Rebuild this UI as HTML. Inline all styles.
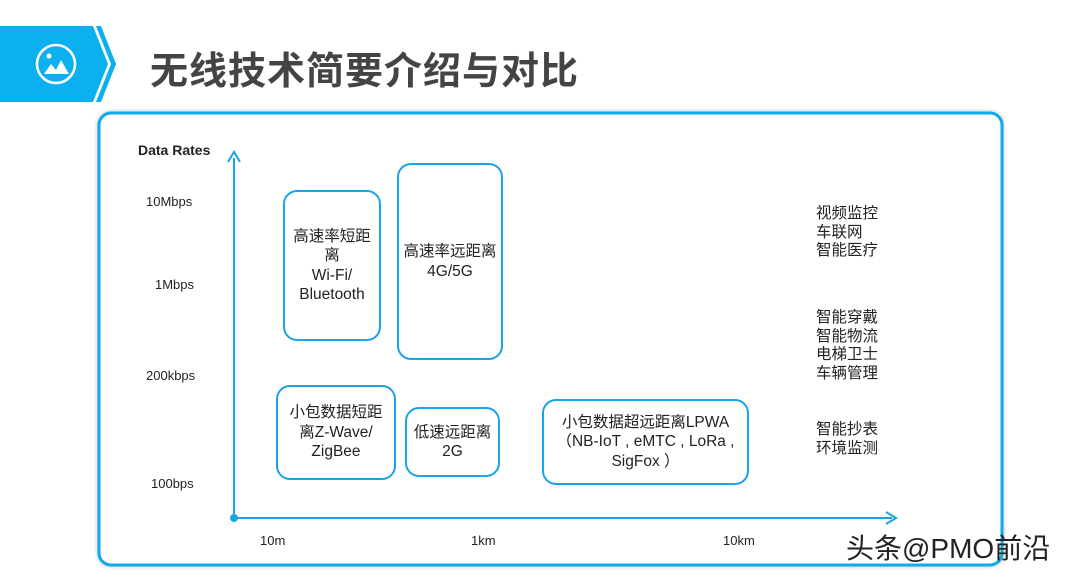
<!DOCTYPE html><html><head><meta charset="utf-8"><style>
body{margin:0;width:1080px;height:574px;background:#fff;position:relative;overflow:hidden;font-family:"Liberation Sans","Noto Sans CJK SC",sans-serif}
.a{position:absolute}
.box{position:absolute;border:2px solid #1aa3e8;border-radius:14px;display:flex;align-items:center;justify-content:center;text-align:center;font-size:15.5px;line-height:19.5px;color:#222;box-sizing:border-box}
.lab{position:absolute;font-size:13px;color:#222}
.r{position:absolute;font-size:15.5px;line-height:18.5px;color:#222}
</style></head><body>
<svg class="a" style="left:0;top:0" width="1080" height="574">
<polygon points="0,26 93,26 108,64 93,102 0,102" fill="#0db0ef"/>
<polygon points="96,26 101,26 116,64 101,102 96,102 111,64" fill="#0db0ef"/>
<circle cx="56" cy="64" r="19" fill="none" stroke="#fff" stroke-width="2.5"/>
<circle cx="49" cy="56" r="2.5" fill="#fff"/>
<polygon points="44,74 51,64 56,70 61,60 69,74" fill="#fff"/>
<rect x="99" y="113" width="903" height="452" rx="12" fill="#fff" stroke="#12a9e8" stroke-width="3" style="filter:drop-shadow(0 0 2px #bbb)"/>
<line x1="234" y1="518" x2="234" y2="158" stroke="#1aa3e8" stroke-width="2"/>
<polyline points="228,162 234,152 240,162" fill="none" stroke="#1aa3e8" stroke-width="2"/>
<line x1="232" y1="518" x2="892" y2="518" stroke="#1aa3e8" stroke-width="2"/>
<polyline points="886,512 896,518 886,524" fill="none" stroke="#1aa3e8" stroke-width="2"/>
<circle cx="234" cy="518" r="4" fill="#1aa3e8"/>
</svg>
<div class="a" style="left:150px;top:40px;font-size:38px;font-weight:bold;color:#444;letter-spacing:1px">无线技术简要介绍与对比</div>
<div class="lab" style="left:138px;top:142px;font-weight:bold;font-size:14px">Data Rates</div>
<div class="lab" style="left:146px;top:194px">10Mbps</div>
<div class="lab" style="left:155px;top:277px">1Mbps</div>
<div class="lab" style="left:146px;top:368px">200kbps</div>
<div class="lab" style="left:151px;top:476px">100bps</div>
<div class="lab" style="left:260px;top:533px">10m</div>
<div class="lab" style="left:471px;top:533px">1km</div>
<div class="lab" style="left:723px;top:533px">10km</div>
<div class="box" style="left:283px;top:190px;width:98px;height:151px">高速率短距<br>离<br>Wi-Fi/<br>Bluetooth</div>
<div class="box" style="left:397px;top:163px;width:106px;height:197px">高速率远距离<br>4G/5G</div>
<div class="box" style="left:276px;top:385px;width:120px;height:95px">小包数据短距<br>离Z-Wave/<br>ZigBee</div>
<div class="box" style="left:405px;top:407px;width:95px;height:70px">低速远距离<br>2G</div>
<div class="box" style="left:542px;top:399px;width:207px;height:86px">小包数据超远距离LPWA<br>（NB-IoT , eMTC , LoRa ,<br>SigFox ）</div>
<div class="r" style="left:816px;top:205px">视频监控<br>车联网<br>智能医疗</div>
<div class="r" style="left:816px;top:309px">智能穿戴<br>智能物流<br>电梯卫士<br>车辆管理</div>
<div class="r" style="left:816px;top:421px">智能抄表<br>环境监测</div>
<div class="a" style="left:846px;top:527px;font-size:28px;color:#222">头条@PMO前沿</div>
</body></html>
